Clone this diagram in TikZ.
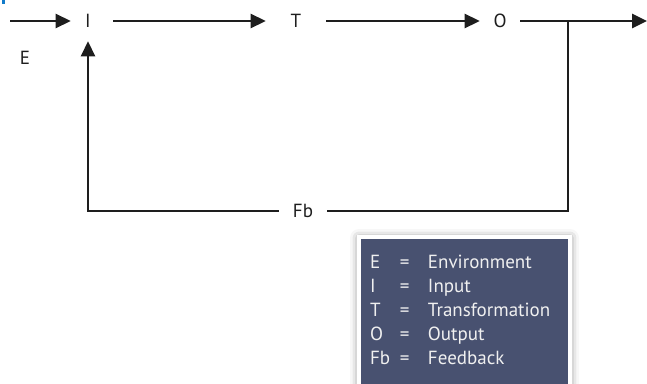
\documentclass[tikz,border=0pt]{standalone}
\usepackage{fontspec}
\setmainfont{PT Sans}
\usetikzlibrary{positioning, arrows.meta, shadows.blur}
\definecolor{legendblue}{RGB}{72,81,112}
\definecolor{linegray}{RGB}{30,30,30}

\begin{document}
\begin{tikzpicture}[x=1pt,y=1pt,->,>={Triangle[length=15pt,width=14pt]},line width=2.6pt,
                    color=linegray,node distance=204pt]
\tikzstyle{every node}=[inner sep=0pt]
\tikzstyle{legend}=[fill=legendblue,draw=white,line width=4pt,text=white!94!black,
                    inner xsep=11pt,inner ysep=15pt,text width=189pt,align=left,
                    blur shadow={shadow xshift=0pt,shadow yshift=-1pt,shadow blur radius=9pt,shadow opacity=50}]
\tikzset{font=\fontsize{19pt}{24pt}\selectfont}

\useasboundingbox (0,0) rectangle (647,-383);
\fill[cyan!60!blue] (2,0) rectangle (5,-4);

        \coordinate                                              (in)    at (10,-21);
        \node[minimum width=32pt, minimum height=38pt]           (I)     at (88,-21)     {I};
        \node                                                    (E)     at (25,-58)     {E};

        \node[minimum width=58pt, minimum height=38pt]           (T)     [right of=I, node distance=208pt]   {T};
        \node[minimum width=38pt, minimum height=38pt]           (O)     [right of=T]    {O};
        \coordinate                                              (out)   at (647,-21);
        \coordinate                                              (split) at (568,-21);

        \node[minimum width=46pt, minimum height=20pt]           (Fb)    [below of=T, node distance=190pt, xshift=7pt] {Fb};

        \path[->]
        (in)  edge                      (I)
        (I)   edge [shorten <=8pt]      (T)
        (T)   edge                      (O)
        (O)   edge                      (out)
        ; %end path

        % feedback loop
        \draw[-]  (split) |- (Fb);
        \draw[->] (Fb) -| (I);

        \node[legend, anchor=north west]                         (key)   at (357,-235) {%
          \begin{tabular}{@{}p{30pt}@{}p{28pt}@{}l@{}}
          E  & = & Environment\\
          I  & = & Input\\
          T  & = & Transformation\\
          O  & = & Output\\
          Fb & = & Feedback\\
          \multicolumn{3}{l}{}
          \end{tabular}};

\end{tikzpicture}
\end{document}
